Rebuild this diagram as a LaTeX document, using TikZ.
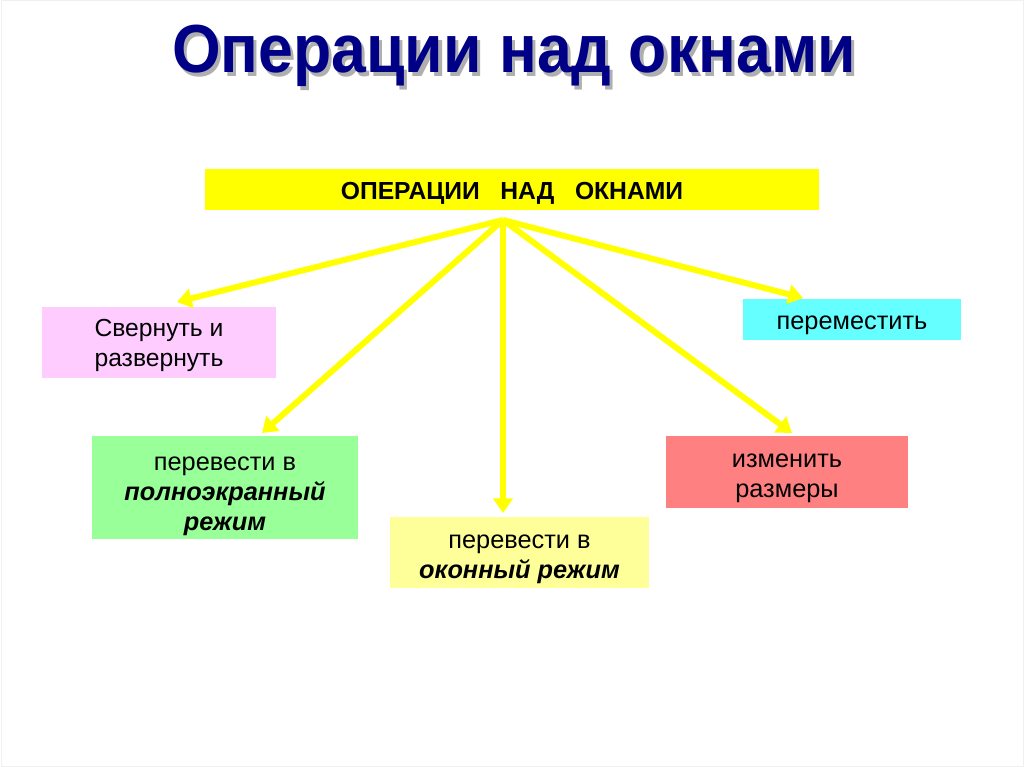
\documentclass[tikz,border=0pt]{standalone}
\usepackage{fontspec}
\setmainfont{Liberation Sans}
\usetikzlibrary{arrows.meta}
\definecolor{navy}{RGB}{0,0,135}
\definecolor{shadowgray}{RGB}{175,175,175}
\definecolor{topyellow}{RGB}{255,255,0}
\definecolor{pinkbox}{RGB}{255,204,255}
\definecolor{cyanbox}{RGB}{102,255,255}
\definecolor{greenbox}{RGB}{153,255,153}
\definecolor{lightyellow}{RGB}{255,255,153}
\definecolor{redbox}{RGB}{255,128,128}
\definecolor{arrowyellow}{RGB}{255,255,0}
\newcommand{\titlestr}{Операции над окнами}
\tikzset{
  opbox/.style={inner sep=0pt, draw=none},
  optext/.style={inner sep=0pt, align=center, font=\fontsize{19}{22.5}\selectfont, text=black},
  oparrow/.style={draw=arrowyellow, line width=4.5pt, -{Triangle[length=11pt,width=14.5pt]}},
  titletext/.style={font=\fontsize{51}{60}\bfseries\selectfont, text=navy}
}
\begin{document}
\begin{tikzpicture}[x=0.75pt,y=-0.75pt]
\useasboundingbox (0,0) rectangle (1024,767);
\fill[white] (0,0) rectangle (1024,767);
\draw[black!6, line width=0.75pt] (1,1) rectangle (1023,766);
% title
\node[titletext, anchor=base, xscale=0.92] (title) at (514,73) {\rlap{\kern2.5pt\raisebox{-2.5pt}{\textcolor{shadowgray}{\titlestr}}}\titlestr};
% boxes
\node[opbox, fill=topyellow, minimum width=460.5pt, minimum height=30.75pt] (top) at (512,189.5) {};
\node[opbox, fill=pinkbox, minimum width=175.5pt, minimum height=53.25pt] (pink) at (159,342.5) {};
\node[opbox, fill=cyanbox, minimum width=163.5pt, minimum height=30.75pt] (cyan) at (852,319.5) {};
\node[opbox, fill=greenbox, minimum width=199.5pt, minimum height=77.25pt] (green) at (225,487.5) {};
\node[opbox, fill=lightyellow, minimum width=194.25pt, minimum height=53.25pt] (window) at (519.5,552.5) {};
\node[opbox, fill=redbox, minimum width=181.5pt, minimum height=54pt] (red) at (787,472) {};
% texts
\node[optext, font=\fontsize{18.5}{22.5}\bfseries\selectfont] (toptext) at ([yshift=-3.2pt]top.center) {ОПЕРАЦИИ\ \ \ НАД\ \ \ ОКНАМИ};
\node[optext, font=\fontsize{18.5}{22.5}\selectfont] (pinktext) at ([yshift=-2.5pt]pink.center) {Свернуть и\\развернуть};
\node[optext] (cyantext) at ([yshift=-4pt]cyan.center) {переместить};
\node[optext] (greentext) at ([yshift=-6.5pt]green.center) {перевести в\\\textbf{\itshape полноэкранный}\\\textbf{\itshape режим}};
\node[optext] (windowtext) at ([yshift=-5pt]window.center) {перевести в\\\textbf{\itshape оконный режим}};
\node[optext] (redtext) at ([yshift=-5pt]red.center) {изменить\\размеры};
% arrows
\coordinate (apex) at (503,220);
\coordinate (tpink) at (177,302);
\coordinate (tgreen) at (262,433);
\coordinate (twindow) at (503,513);
\coordinate (tcyan) at (803,298);
\coordinate (tred) at (792,433);
\draw[oparrow] (apex) -- (tpink);
\draw[oparrow] (apex) -- (tgreen);
\draw[oparrow] (apex) -- (twindow);
\draw[oparrow] (apex) -- (tcyan);
\draw[oparrow] (apex) -- (tred);
\end{tikzpicture}
\end{document}
